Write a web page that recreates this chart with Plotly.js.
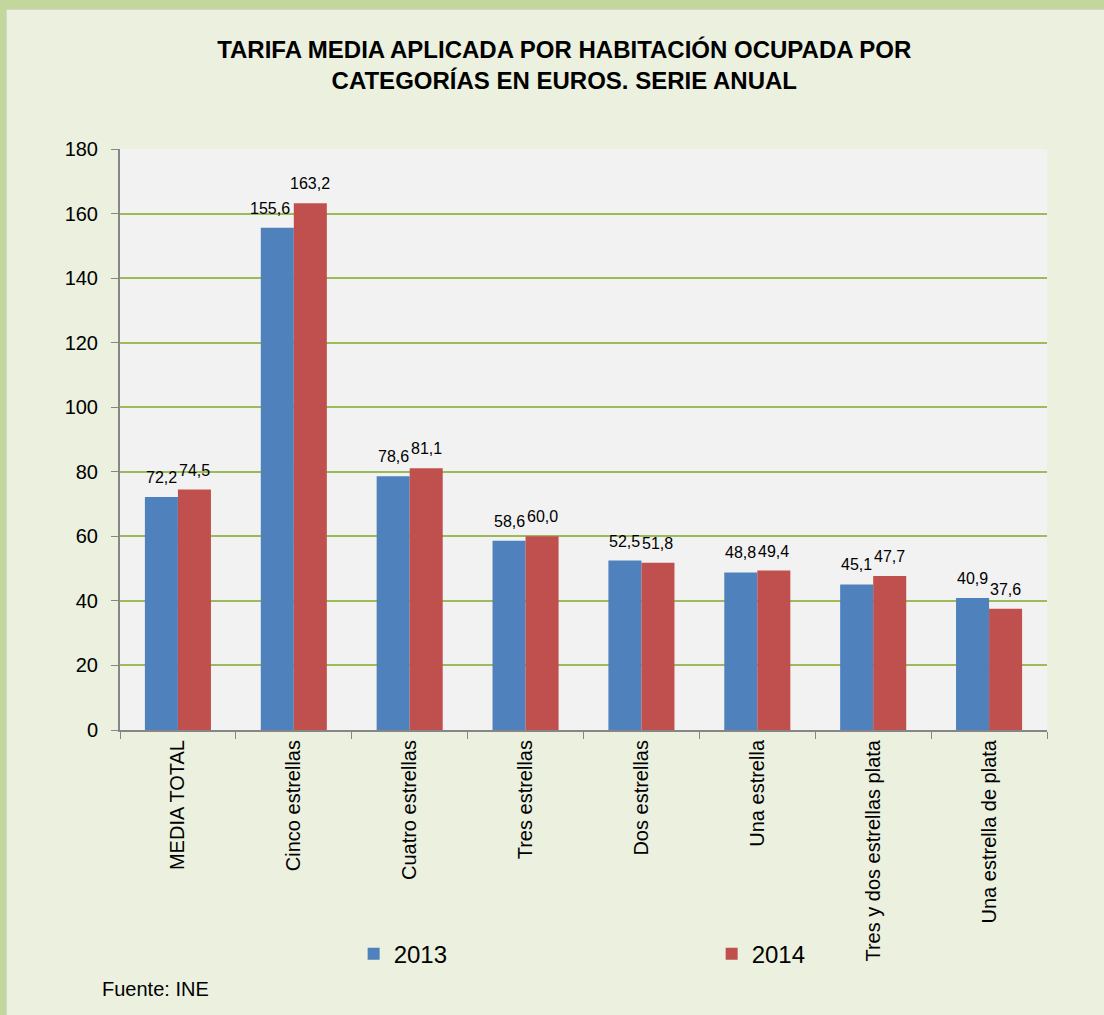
<!DOCTYPE html>
<html>
<head>
<meta charset="utf-8">
<script src="https://cdn.plot.ly/plotly-3.0.1.min.js"></script>
<style>
  html, body { margin: 0; padding: 0; background: #c3d69b; width: 1104px; height: 1015px; overflow: hidden; }
  #frame { position: absolute; left: 6px; top: 9px; width: 1098px; height: 1006px; background: #ebf0df; border-top: 1px solid #d4d8cc; border-left: 1px solid #d4d8cc; box-sizing: border-box; }
  #chart { position: absolute; left: 0; top: 0; width: 1097px; height: 1005px; }
</style>
</head>
<body>
<div id="frame"><div id="chart"></div></div>
<script>
const categories = ["MEDIA TOTAL", "Cinco estrellas", "Cuatro estrellas", "Tres estrellas", "Dos estrellas", "Una estrella", "Tres y dos estrellas plata", "Una estrella de plata"];
const values2013 = [72.2, 155.6, 78.6, 58.6, 52.5, 48.8, 45.1, 40.9];
const values2014 = [74.5, 163.2, 81.1, 60.0, 51.8, 49.4, 47.7, 37.6];
const seriesNames = ["2013", "2014"];
const yTicks = [0, 20, 40, 60, 80, 100, 120, 140, 160, 180];

const font = "Liberation Sans, Arial, sans-serif";
const mk = (name, vals, color) => ({
  type: "bar", name: name, x: categories, y: vals,
  marker: { color: color, line: { width: 0 } },
  hoverinfo: "x+y"
});
const data = [
  mk(seriesNames[0], values2013, "#4f81bd"),
  mk(seriesNames[1], values2014, "#c0504d")
];

const fmt = v => v.toFixed(1).replace(".", ",");
const labelAnns = [];
categories.forEach((c, i) => {
  const a = values2013[i], b = values2014[i];
  labelAnns.push({
    x: c, y: a, xref: "x", yref: "y", text: fmt(a), showarrow: false,
    xanchor: "center", yanchor: "bottom", xshift: -16.5 - (b - a > 5 ? 7 : 0), yshift: 9,
    font: { family: font, size: 16, color: "#000" }
  });
  labelAnns.push({
    x: c, y: b, xref: "x", yref: "y", text: fmt(b), showarrow: false,
    xanchor: "center", yanchor: "bottom", xshift: 16.5, yshift: 9,
    font: { family: font, size: 16, color: "#000" }
  });
});

const layout = {
  width: 1097, height: 1005,
  paper_bgcolor: "rgba(0,0,0,0)", plot_bgcolor: "#f2f2f2",
  separators: ",.",
  margin: { l: 113, r: 57, t: 139, b: 285, pad: 0 },
  barmode: "group", bargap: 0.43, bargroupgap: 0,
  title: {
    text: "<b>TARIFA MEDIA APLICADA POR HABITACIÓN OCUPADA POR<br>CATEGORÍAS EN EUROS. SERIE ANUAL</b>",
    font: { family: font, size: 24, color: "#000" },
    x: 0.508, xanchor: "center", yref: "container", y: 0.952, yanchor: "middle"
  },
  xaxis: {
    type: "category", tickangle: -90, tickson: "boundaries",
    ticks: "outside", ticklen: 7, tickcolor: "#868686",
    showline: true, linecolor: "#868686", linewidth: 2,
    showgrid: false,
    tickfont: { family: font, size: 20, color: "#000" }
  },
  yaxis: {
    range: [0, 180], tickvals: yTicks,
    ticks: "outside", ticklen: 7, tickcolor: "#868686",
    showline: true, linecolor: "#868686", linewidth: 2,
    gridcolor: "#9bbb59", gridwidth: 2, zeroline: false,
    ticklabelstandoff: 9,
    tickfont: { family: font, size: 20, color: "#000" }
  },
  showlegend: true,
  legend: {
    orientation: "h", xref: "container", yref: "container",
    x: 0.316, xanchor: "left", y: 0.083, yanchor: "top",
    entrywidth: 313, entrywidthmode: "pixels",
    bgcolor: "rgba(0,0,0,0)",
    font: { family: font, size: 24, color: "#000" }
  },
  annotations: labelAnns.concat([{
    text: "Fuente: INE", xref: "paper", yref: "paper",
    x: -0.022, xanchor: "left", y: -0.445, yanchor: "middle",
    showarrow: false,
    font: { family: font, size: 20, color: "#000" }
  }])
};
Plotly.newPlot("chart", data, layout, { displayModeBar: false, staticPlot: true });
</script>
</body>
</html>
